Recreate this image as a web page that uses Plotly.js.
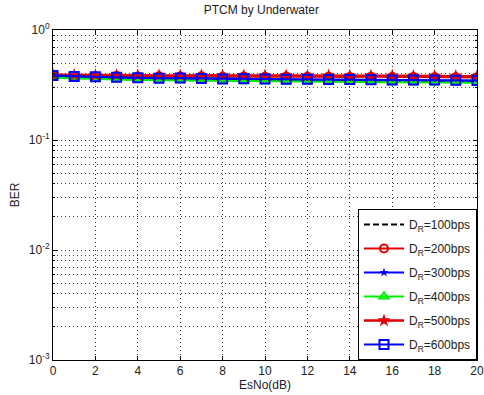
<!DOCTYPE html>
<html>
<head>
<meta charset="utf-8">
<script src="https://cdn.plot.ly/plotly-3.0.1.min.js"></script>
<style>html,body{margin:0;padding:0;background:#fff;}#chart{width:484px;height:395px;}</style>
</head>
<body>
<div id="chart"></div>
<script>
const esno = [0,1,2,3,4,5,6,7,8,9,10,11,12,13,14,15,16,17,18,19,20];
const ber100 = [0.370,0.365,0.362,0.360,0.355,0.352,0.350,0.350,0.348,0.347,0.346,0.345,0.344,0.343,0.342,0.341,0.340,0.340,0.339,0.338,0.337];
const ber200 = [0.385,0.380,0.378,0.381,0.376,0.379,0.377,0.380,0.375,0.378,0.376,0.377,0.375,0.376,0.374,0.375,0.373,0.374,0.372,0.371,0.370];
const ber300 = [0.375,0.370,0.368,0.365,0.362,0.360,0.358,0.357,0.355,0.354,0.353,0.352,0.351,0.350,0.350,0.349,0.348,0.347,0.347,0.346,0.345];
const ber400 = [0.368,0.362,0.358,0.355,0.352,0.350,0.347,0.345,0.344,0.342,0.341,0.340,0.339,0.338,0.337,0.336,0.335,0.334,0.334,0.333,0.332];
const ber500 = [0.392,0.390,0.388,0.389,0.387,0.388,0.386,0.387,0.385,0.386,0.385,0.386,0.384,0.385,0.384,0.384,0.383,0.383,0.382,0.382,0.380];
const ber600 = [0.385,0.378,0.375,0.372,0.368,0.365,0.366,0.363,0.358,0.360,0.358,0.357,0.356,0.355,0.355,0.353,0.352,0.352,0.351,0.349,0.348];
const names = ["D<sub>R</sub>=100bps","D<sub>R</sub>=200bps","D<sub>R</sub>=300bps","D<sub>R</sub>=400bps","D<sub>R</sub>=500bps","D<sub>R</sub>=600bps"];
const yTickVals = [0.001, 0.01, 0.1, 1];
const yTickText = ["10<sup>-3</sup>","10<sup>-2</sup>","10<sup>-1</sup>","10<sup>0</sup>"];
const xTickVals = [0,2,4,6,8,10,12,14,16,18,20];

const traces = [
  {y: ber100, name: names[0], mode: 'lines', line: {color: '#000000', width: 2, dash: '6px,3px'}},
  {y: ber200, name: names[1], mode: 'lines+markers', line: {color: '#e00000', width: 2}, marker: {symbol: 'circle-open', size: 8, color: '#e00000', line: {width: 2}}},
  {y: ber300, name: names[2], mode: 'lines+markers', line: {color: '#0000ff', width: 2}, marker: {symbol: 'star', size: 7, color: '#0000ff'}},
  {y: ber400, name: names[3], mode: 'lines+markers', line: {color: '#00ee00', width: 2}, marker: {symbol: 'triangle-up-open', size: 8, color: '#00ee00', line: {width: 2}}},
  {y: ber500, name: names[4], mode: 'lines+markers', line: {color: '#e00000', width: 2.5}, marker: {symbol: 'star', size: 10, color: '#e00000'}},
  {y: ber600, name: names[5], mode: 'lines+markers', line: {color: '#0000ff', width: 2}, marker: {symbol: 'square-open', size: 9, color: '#0000ff', line: {width: 2}}}
].map((t, i) => Object.assign({x: esno, type: 'scatter', legendgroup: 'g' + i}, t));

const layout = {
  width: 484, height: 395,
  margin: {l: 53, r: 7, t: 30, b: 35},
  paper_bgcolor: '#ffffff', plot_bgcolor: '#ffffff',
  font: {family: 'Liberation Sans, Arial, sans-serif', size: 11, color: '#222'},
  title: {text: 'PTCM by Underwater', font: {size: 12, color: '#222'}, x: 0.54, xanchor: 'center', y: 0.985, yanchor: 'top'},
  showlegend: true,
  legend: {x: 1, xanchor: 'right', y: 0, yanchor: 'bottom', bgcolor: '#ffffff', bordercolor: '#000', borderwidth: 1, font: {size: 12, color: '#222'}, tracegroupgap: 5, itemwidth: 40},
  xaxis: {
    range: [0, 20], tickvals: xTickVals, ticks: 'inside', ticklen: 4, tickcolor: '#000',
    showline: true, linecolor: '#000', linewidth: 1, mirror: 'ticks',
    showgrid: true, gridcolor: '#333', griddash: '1px,3px', gridwidth: 1, zeroline: false,
    tickfont: {size: 12, color: '#222'},
    title: {text: 'EsNo(dB)', font: {size: 12, color: '#222'}, standoff: 2}
  },
  yaxis: {
    type: 'log', range: [-3, 0], tickvals: yTickVals, ticktext: yTickText,
    ticks: 'inside', ticklen: 4, tickcolor: '#000',
    showline: true, linecolor: '#000', linewidth: 1, mirror: 'ticks',
    showgrid: true, gridcolor: '#333', griddash: '1px,3px', gridwidth: 1, zeroline: false,
    tickfont: {size: 12, color: '#222'},
    minor: {dtick: 'D1', ticks: 'inside', ticklen: 2, tickcolor: '#000', showgrid: true, gridcolor: '#444', griddash: '1px,3px', gridwidth: 1},
    title: {text: 'BER', font: {size: 12, color: '#222'}, standoff: 6}
  }
};

Plotly.newPlot('chart', traces, layout, {displayModeBar: false, staticPlot: true});
</script>
</body>
</html>
